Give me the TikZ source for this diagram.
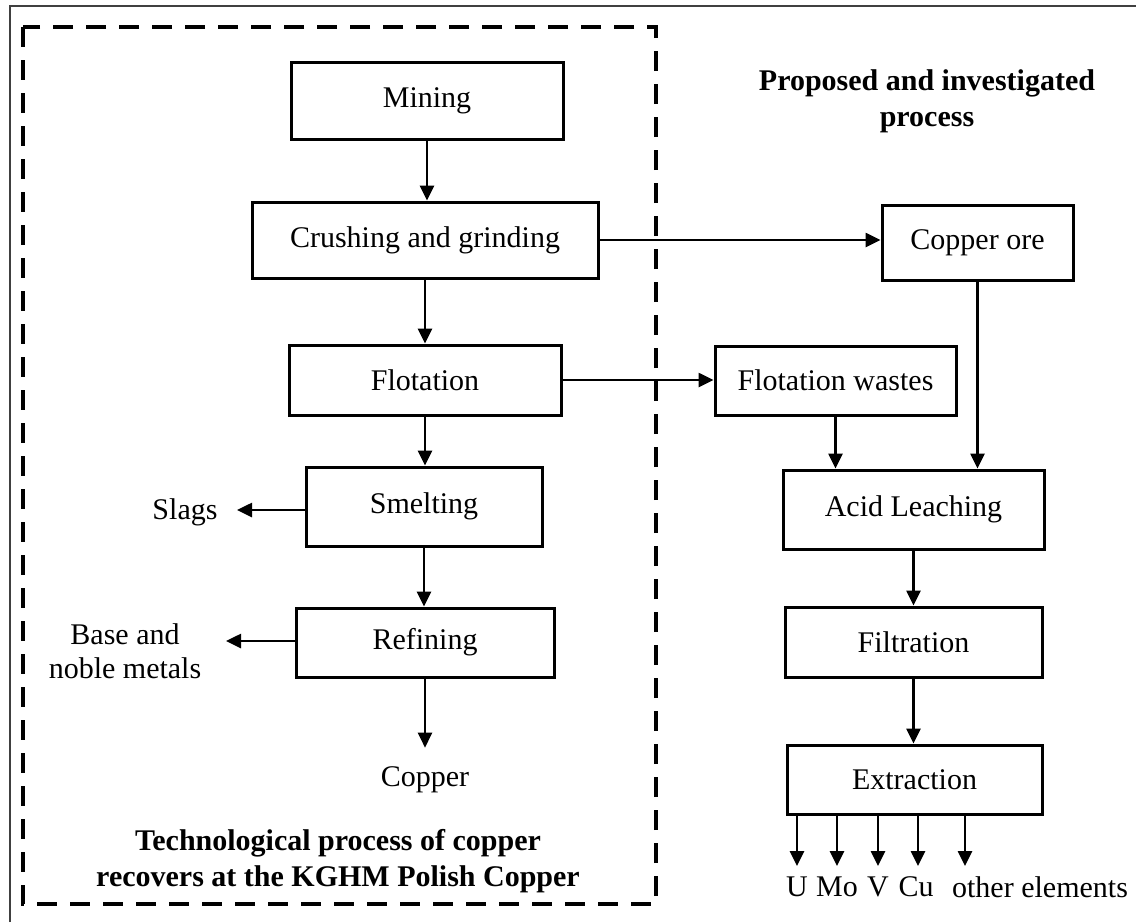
\documentclass[tikz,border=0pt]{standalone}
\usepackage{fontspec}
\setmainfont{Liberation Serif}
\usetikzlibrary{arrows.meta}
\tikzset{
  procbox/.style={draw, line width=3pt, inner sep=0pt, font=\fontsize{30}{36}\selectfont},
  lbl/.style={inner sep=0pt, font=\fontsize{30}{34}\selectfont, align=center},
  ttl/.style={inner sep=0pt, font=\fontsize{30}{36}\selectfont\bfseries, align=center},
  arr/.style={line width=2.6pt, -{Triangle[length=15pt,width=14pt]}},
  frame/.style={line width=4pt, dash pattern=on 20pt off 13pt}
}
\begin{document}
\begin{tikzpicture}[x=1pt, y=-1pt]
\useasboundingbox (0,0) rectangle (1136,922);
% outer frame (top and left)
\draw[line width=2pt, black!75] (10,922) -- (10,6) -- (1136,6);
% dashed enclosure
\draw[frame] (23,27) rectangle (656,904);

% left chain
\node[procbox, minimum width=272pt, minimum height=77pt] (mining) at (427,100.5) {Mining};
\node[procbox, minimum width=346pt, minimum height=76pt] (crush) at (425,240) {Crushing and grinding};
\node[procbox, minimum width=272pt, minimum height=70pt] (flot) at (425,380) {Flotation};
\node[procbox, minimum width=236pt, minimum height=79pt] (smelt) at (424,506.5) {Smelting};
\node[procbox, minimum width=258pt, minimum height=69pt] (refin) at (425,642.5) {Refining};
\node[lbl] (copper) at (425,780) {Copper};
\node[lbl] (slags) at (185,512) {Slags};
\node[lbl] (base) at (125,651) {Base and\\noble metals};
\coordinate (slagsend) at (237,510);
\coordinate (baseend) at (226,641);
\node[ttl] (lefttitle) at (338,861) {Technological process of copper\\recovers at the KGHM Polish Copper};

% right chain
\node[ttl] (righttitle) at (927,101) {Proposed and investigated\\process};
\node[procbox, minimum width=191pt, minimum height=75pt] (ore) at (977.5,242.5) {Copper ore};
\node[procbox, minimum width=241pt, minimum height=69pt] (fw) at (835.5,380.5) {Flotation wastes};
\node[procbox, minimum width=261pt, minimum height=79pt] (acid) at (913.5,509.5) {Acid Leaching};
\node[procbox, minimum width=257pt, minimum height=70pt] (filt) at (913.5,642) {Filtration};
\node[procbox, minimum width=255pt, minimum height=69pt] (extr) at (914.5,779.5) {Extraction};

% output labels
\node[lbl] (lU) at (797,887) {U};
\node[lbl] (lMo) at (837,887) {Mo};
\node[lbl] (lV) at (878,887) {V};
\node[lbl] (lCu) at (916,887) {Cu};
\node[lbl] (lOther) at (1040,887) {other elements};
\coordinate (aU) at (797,866);
\coordinate (aMo) at (837,866);
\coordinate (aV) at (878,866);
\coordinate (aCu) at (918,866);
\coordinate (aOther) at (965,866);

% connectors left
\draw[arr] (mining.south) -- (mining.south |- crush.north);
\draw[arr] (crush.south) -- (crush.south |- flot.north);
\draw[arr] (flot.south) -- (flot.south |- smelt.north);
\draw[arr] (smelt.south) -- (smelt.south |- refin.north);
\draw[arr, shorten >=19pt] (refin.south) -- (refin.south |- copper.north);
\draw[arr] (smelt.west |- slagsend) -- (slagsend);
\draw[arr] (refin.west |- baseend) -- (baseend);

% cross connectors
\draw[arr] (crush.east) -- (crush.east -| ore.west);
\draw[arr] (flot.east) -- (flot.east -| fw.west);

% connectors right
\draw[arr] (fw.south) -- (fw.south |- acid.north);
\draw[arr] (ore.south) -- (ore.south |- acid.north);
\draw[arr] (acid.south) -- (acid.south |- filt.north);
\draw[arr] (filt.south) -- (filt.south |- extr.north);
\draw[arr] (extr.south -| aU) -- (aU);
\draw[arr] (extr.south -| aMo) -- (aMo);
\draw[arr] (extr.south -| aV) -- (aV);
\draw[arr] (extr.south -| aCu) -- (aCu);
\draw[arr] (extr.south -| aOther) -- (aOther);
\end{tikzpicture}
\end{document}
